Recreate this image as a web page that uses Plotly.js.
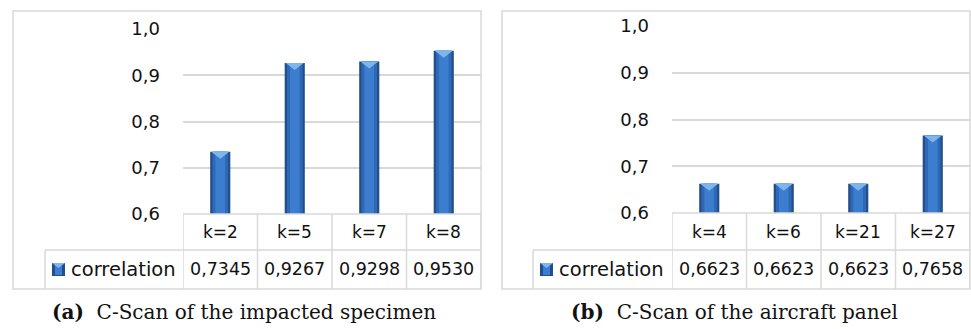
<!DOCTYPE html>
<html>
<head>
<meta charset="utf-8">
<script src="https://cdn.plot.ly/plotly-3.0.1.min.js"></script>
<style>
  html, body { margin: 0; padding: 0; background: #fff; }
  #chart { width: 971px; height: 329px; }
</style>
</head>
<body>
<div id="chart"></div>
<script>
// Correlation per number of clusters k, for two C-Scan data sets
const categoriesA = ['k=2', 'k=5', 'k=7', 'k=8'];
const correlationA = [0.7345, 0.9267, 0.9298, 0.9530];
const captionA = 'C-Scan of the impacted specimen';

const categoriesB = ['k=4', 'k=6', 'k=21', 'k=27'];
const correlationB = [0.6623, 0.6623, 0.6623, 0.7658];
const captionB = 'C-Scan of the aircraft panel';

const seriesName = 'correlation';
const yTicks = [0.6, 0.7, 0.8, 0.9, 1.0];

const W = 971, H = 329;
const px = v => v / W;          // pixel -> paper x
const py = v => 1 - v / H;      // pixel -> paper y

const GRID = '#D9D9D9';
const TEXT = '#111111';
const SANS = 'DejaVu Sans, Verdana, sans-serif';
const SERIF = 'DejaVu Serif, Liberation Serif, serif';
const fmt = v => v.toFixed(4).replace('.', ',');

// panel geometry (pixels)
const panels = [
  { cats: categoriesA, vals: correlationA, caption: captionA, tag: '(a)',
    xa: 'x', ya: 'y', outer: [13, 11, 481, 289], plot: [183, 29, 481, 214],
    legendX: 45, rowY: 250, capX: 244 },
  { cats: categoriesB, vals: correlationB, caption: captionB, tag: '(b)',
    xa: 'x2', ya: 'y2', outer: [502, 11, 970, 289], plot: [672, 26, 970, 213],
    legendX: 533, rowY: 250, capX: 734 }
];

const traces = [];
const shapes = [];
const annotations = [];

// layered bar bodies give the bevelled column look
const layers = [
  { color: '#234E8B', width: 0.27 },
  { color: '#2F68B4', width: 0.21 },
  { color: '#3D7DD0', width: 0.13 }
];

panels.forEach(p => {
  layers.forEach(l => {
    traces.push({
      type: 'bar', x: p.cats, y: p.vals, base: 0,
      xaxis: p.xa, yaxis: p.ya, width: l.width,
      marker: { color: l.color, line: { width: 0 } },
      hoverinfo: 'skip', showlegend: false
    });
  });

  // light bevel on top of each column
  p.vals.forEach((v, i) => {
    shapes.push({
      type: 'path', xref: p.xa, yref: p.ya,
      xsizemode: 'pixel', ysizemode: 'pixel',
      xanchor: i, yanchor: v,
      path: 'M-9,0 L9,0 L0,-7 Z',
      fillcolor: '#7DB5EE', line: { width: 0 }, layer: 'above'
    });
  });

  const [ox0, oy0, ox1, oy1] = p.outer;
  const plotBottom = p.plot[3];
  const line = { color: GRID, width: 1.5 };

  // outer frame
  shapes.push({ type: 'rect', xref: 'paper', yref: 'paper',
    x0: px(ox0), x1: px(ox1), y0: py(oy1), y1: py(oy0), line });

  // data table rows
  shapes.push({ type: 'line', xref: p.xa, yref: 'paper',
    x0: -0.5, x1: p.cats.length - 0.5, y0: py(plotBottom), y1: py(plotBottom), line });
  shapes.push({ type: 'line', xref: 'paper', yref: 'paper',
    x0: px(p.legendX), x1: px(ox1), y0: py(p.rowY), y1: py(p.rowY), line });
  shapes.push({ type: 'line', xref: 'paper', yref: 'paper',
    x0: px(p.legendX), x1: px(p.legendX), y0: py(oy1), y1: py(p.rowY), line });

  // table column separators at category boundaries
  for (let i = 0; i <= p.cats.length; i++) {
    shapes.push({ type: 'line', xref: p.xa, yref: 'paper',
      x0: i - 0.5, x1: i - 0.5, y0: py(oy1), y1: py(plotBottom), line });
  }

  // category labels and values
  p.cats.forEach((c, i) => {
    annotations.push({ xref: p.xa, yref: 'paper', x: i, y: py(232),
      xanchor: 'center', yanchor: 'middle',
      text: c, showarrow: false, font: { family: SANS, size: 17, color: TEXT } });
    annotations.push({ xref: p.xa, yref: 'paper', x: i, y: py(269),
      xanchor: 'center', yanchor: 'middle',
      text: fmt(p.vals[i]), showarrow: false, font: { family: SANS, size: 17.5, color: TEXT } });
  });

  // legend key inside the table
  const kx = p.legendX + 7;
  shapes.push({ type: 'rect', xref: 'paper', yref: 'paper',
    x0: px(kx), x1: px(kx + 13), y0: py(276), y1: py(263),
    fillcolor: '#234E8B', line: { width: 0 } });
  shapes.push({ type: 'rect', xref: 'paper', yref: 'paper',
    x0: px(kx + 3), x1: px(kx + 10), y0: py(275), y1: py(264),
    fillcolor: '#3D7DD0', line: { width: 0 } });
  shapes.push({ type: 'path', xref: 'paper', yref: 'paper',
    path: `M${px(kx)},${py(263)} L${px(kx + 13)},${py(263)} L${px(kx + 6.5)},${py(268)} Z`,
    fillcolor: '#7DB5EE', line: { width: 0 } });
  annotations.push({ xref: 'paper', yref: 'paper', x: px(kx + 17), y: py(269),
    xanchor: 'left', yanchor: 'middle', text: seriesName, showarrow: false,
    font: { family: SANS, size: 19.5, color: TEXT } });

  // caption
  annotations.push({ xref: 'paper', yref: 'paper', x: px(p.capX), y: py(312),
    xanchor: 'center', yanchor: 'middle',
    text: `<b>${p.tag}</b>  ${p.caption}`, showarrow: false,
    font: { family: SERIF, size: 20, color: '#111' } });
});

const yAxis = (p) => ({
  domain: [py(p.plot[3]), py(p.plot[1])],
  range: [0.6, 1.0], tickvals: yTicks, tickformat: '.1f',
  showgrid: true, gridcolor: GRID, gridwidth: 2, zeroline: false,
  showline: false, ticks: '', ticklabelstandoff: 22,
  tickfont: { family: SANS, size: 18, color: TEXT },
  anchor: p.xa, fixedrange: true
});
const xAxis = (p) => ({
  domain: [px(p.plot[0]), px(p.plot[2])],
  type: 'category', range: [-0.5, p.cats.length - 0.5],
  showticklabels: false, showgrid: false, zeroline: false, showline: false,
  ticks: '', anchor: p.ya, fixedrange: true
});

const layout = {
  width: W, height: H,
  margin: { l: 0, r: 0, t: 0, b: 0 },
  paper_bgcolor: '#fff', plot_bgcolor: 'rgba(0,0,0,0)',
  separators: ', ',
  barmode: 'overlay', showlegend: false,
  xaxis: xAxis(panels[0]), yaxis: yAxis(panels[0]),
  xaxis2: xAxis(panels[1]), yaxis2: yAxis(panels[1]),
  shapes, annotations
};

Plotly.newPlot('chart', traces, layout, { displayModeBar: false, staticPlot: true });
</script>
</body>
</html>
